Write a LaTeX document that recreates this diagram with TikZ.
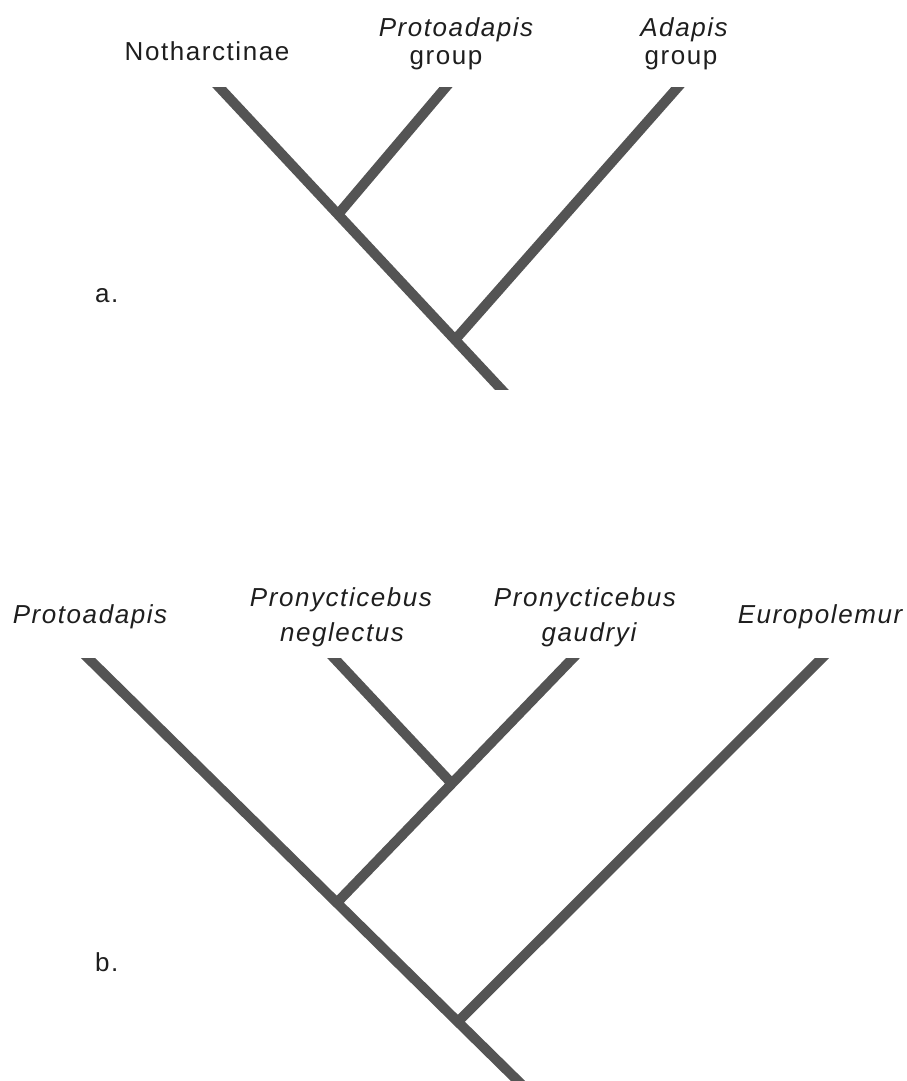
\documentclass[tikz,border=0pt]{standalone}
\usepackage{fontspec}
\setmainfont[LetterSpace=6]{Liberation Sans}
\usetikzlibrary{calc}
\definecolor{linegray}{HTML}{545454}
\definecolor{textblack}{HTML}{1E1E1E}
\begin{document}
\begin{tikzpicture}[x=1pt,y=-1pt,
  branch/.style={draw=linegray,line width=10pt,line cap=butt},
  ext/.style={shorten <=-12pt},
  extboth/.style={shorten <=-12pt,shorten >=-12pt},
  lab/.style={font=\fontsize{26}{30}\selectfont,text=textblack,inner sep=0pt,anchor=base},
  tag/.style={font=\fontsize{26}{30}\selectfont,text=textblack,inner sep=0pt,anchor=base west}]
\useasboundingbox (0,0) rectangle (907,1081);

% ---------- panel a ----------
\coordinate (aN) at (219,87);
\coordinate (aP) at (446,87);
\coordinate (aA) at (678,87);
\coordinate (aR) at (501,389);
\coordinate (aJ1) at ($(aN)!0.422!(aR)$);
\coordinate (aJ2) at ($(aN)!0.837!(aR)$);
\begin{scope}
  \clip (0,87) rectangle (907,389);
  \draw[branch,extboth] (aN) -- (aR);
  \draw[branch,ext] (aP) -- (aJ1);
  \draw[branch,ext] (aA) -- (aJ2);
\end{scope}
\node[lab] (labN) at (207,61) {Notharctinae};
\node[lab] (labP1) at (456,37) {\itshape Protoadapis};
\node[lab] (labP2) at (446,65) {group};
\node[lab] (labA1) at (684,37) {\itshape Adapis};
\node[lab] (labA2) at (681,65) {group};
\node[tag] (taga) at (95,302) {a.};

% ---------- panel b ----------
\coordinate (bP) at (88,658);
\coordinate (bN) at (334,658);
\coordinate (bG) at (573,658);
\coordinate (bE) at (822,658);
\coordinate (bR) at (517,1080);
\coordinate (bJ2) at ($(bP)!0.580!(bR)$);
\coordinate (bJ3) at ($(bP)!0.862!(bR)$);
\coordinate (bJ1) at ($(bG)!0.513!(bJ2)$);
\begin{scope}
  \clip (0,658) rectangle (907,1080);
  \draw[branch,extboth] (bP) -- (bR);
  \draw[branch,ext] (bG) -- (bJ2);
  \draw[branch,ext] (bN) -- (bJ1);
  \draw[branch,ext] (bE) -- (bJ3);
\end{scope}
\node[lab] (lbP) at (90,623) {\itshape Protoadapis};
\node[lab] (lbN1) at (341,606) {\itshape Pronycticebus};
\node[lab] (lbN2) at (342,641) {\itshape neglectus};
\node[lab] (lbG1) at (585,606) {\itshape Pronycticebus};
\node[lab] (lbG2) at (589,641) {\itshape gaudryi};
\node[lab] (lbE) at (820,623) {\itshape Europolemur};
\node[tag] (tagb) at (95,971) {b.};
\end{tikzpicture}
\end{document}
